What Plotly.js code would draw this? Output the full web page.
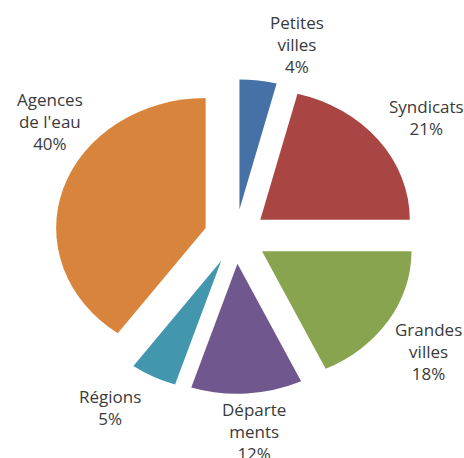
<!DOCTYPE html>
<html>
<head>
<meta charset="utf-8">
<script src="https://cdn.plot.ly/plotly-3.0.1.min.js"></script>
<style>
  html, body { margin: 0; padding: 0; background: #ffffff; }
  #chart { width: 464px; height: 458px; }
  /* the reference pie is slightly wider than tall */
  #chart .pielayer { transform: scaleX(1.15); transform-origin: 235.5px 0px; }
</style>
</head>
<body>
<div id="chart"></div>
<script>
// ---- data ----
var labels = ['Petites villes', 'Syndicats', 'Grandes villes', 'Départements', 'Régions', "Agences de l'eau"];
var values = [4, 21, 18, 12, 5, 40];
var labelLines = ['Petites<br>villes', 'Syndicats', 'Grandes<br>villes', 'Départe<br>ments', 'Régions', "Agences<br>de l'eau"];
var colors = ['#4571A6', '#A94644', '#88A44E', '#70588E', '#4297AE', '#D9843D'];

// ---- label placement (pixels in the 464x458 frame) ----
var labelPos = [[296.5, 45], [426.5, 117], [428, 351], [254, 431], [110, 407.5], [50, 121]];

var W = 464, H = 458;
var cx = 235.5, cy = 236.5, r = 130, pull = 0.21;
var half = r * (1 + pull);

var trace = {
  type: 'pie',
  labels: labels,
  values: values,
  sort: false,
  direction: 'clockwise',
  rotation: 0,
  pull: values.map(function () { return pull; }),
  marker: { colors: colors, line: { width: 0 } },
  textinfo: 'none',
  hoverinfo: 'none',
  showlegend: false,
  domain: {
    x: [(cx - half) / W, (cx + half) / W],
    y: [(H - cy - half) / H, (H - cy + half) / H]
  }
};

var annotations = labels.map(function (l, i) {
  return {
    text: labelLines[i] + '<br>' + values[i] + '%',
    x: labelPos[i][0] / W,
    y: 1 - labelPos[i][1] / H,
    xref: 'paper', yref: 'paper',
    xanchor: 'center', yanchor: 'middle',
    showarrow: false,
    align: 'center',
    font: { family: 'Open Sans, sans-serif', size: 17, color: '#3a3a3a' }
  };
});

var layout = {
  width: W, height: H,
  margin: { l: 0, r: 0, t: 0, b: 0 },
  paper_bgcolor: '#ffffff',
  plot_bgcolor: '#ffffff',
  showlegend: false,
  annotations: annotations
};

Plotly.newPlot('chart', [trace], layout, { displayModeBar: false, staticPlot: true });
</script>
</body>
</html>
